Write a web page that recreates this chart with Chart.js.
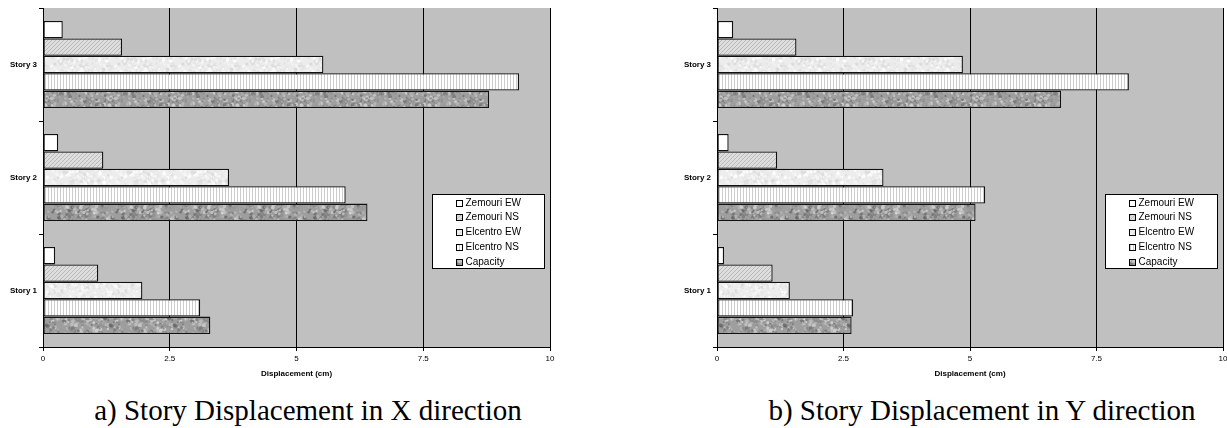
<!DOCTYPE html>
<html>
<head>
<meta charset="utf-8">
<script src="https://cdn.jsdelivr.net/npm/chart.js@4.4.1/dist/chart.umd.min.js"></script>
<style>
  html, body { margin: 0; padding: 0; background: #fff; width: 1227px; height: 428px; overflow: hidden; position: relative; }
  .panel { position: absolute; top: 0; }
  .caption {
    position: absolute; top: 396px; line-height: 29px;
    font-family: "Liberation Serif", "Times New Roman", serif; font-size: 29px;
    color: #000; white-space: nowrap; transform: translateX(-50%);
  }
</style>
</head>
<body>
<canvas id="chartX" class="panel" width="562" height="385" style="left:0"></canvas>
<canvas id="chartY" class="panel" width="560" height="385" style="left:674px"></canvas>
<div class="caption" style="left:308px">a) Story Displacement in X direction</div>
<div class="caption" style="left:982px">b) Story Displacement in Y direction</div>
<script>
// categories (top to bottom)
const stories = ['Story 3', 'Story 2', 'Story 1'];
const seriesNames = ['Zemouri EW', 'Zemouri NS', 'Elcentro EW', 'Elcentro NS', 'Capacity'];

// a) X direction, cm
const xZemouriEW  = [0.39, 0.30, 0.24];
const xZemouriNS  = [1.56, 1.19, 1.09];
const xElcentroEW = [5.53, 3.67, 1.96];
const xElcentroNS = [9.39, 5.97, 3.10];
const xCapacity   = [8.80, 6.40, 3.30];

// b) Y direction, cm
const yZemouriEW  = [0.32, 0.23, 0.14];
const yZemouriNS  = [1.57, 1.19, 1.10];
const yElcentroEW = [4.86, 3.29, 1.44];
const yElcentroNS = [8.14, 5.30, 2.69];
const yCapacity   = [6.80, 5.11, 2.66];

const axisMin = 0, axisMax = 10, axisStep = 2.5;
const FONT = '"Liberation Sans", Arial, sans-serif';

// --- fill textures (excel-like patterns) ---
function lcg(seed) {
    let s = seed >>> 0;
    return () => (s = (s * 1664525 + 1013904223) >>> 0) / 4294967296;
}
function tile(w, h, paint) {
    const c = document.createElement('canvas');
    c.width = w; c.height = h;
    const g = c.getContext('2d');
    paint(g, w, h);
    return g.createPattern(c, 'repeat');
}
// mottled texture: base colour plus soft random blobs
function speckle(base, spread, seed) {
    return tile(64, 64, (g, w, h) => {
        const rnd = lcg(seed);
        g.fillStyle = `rgb(${base},${base},${base})`;
        g.fillRect(0, 0, w, h);
        for (let k = 0; k < 700; k++) {
            const v = Math.max(0, Math.min(255, Math.round(base + (rnd() - 0.5) * spread)));
            const x = rnd() * w, y = rnd() * h, r = 0.6 + rnd() * 1.4;
            g.fillStyle = `rgba(${v},${v},${v},0.8)`;
            for (const dx of [-w, 0, w]) for (const dy of [-h, 0, h]) {
                g.beginPath();
                g.arc(x + dx, y + dy, r, 0, Math.PI * 2);
                g.fill();
            }
        }
    });
}
const fillWhite = '#ffffff';
const fillHatch = tile(4, 4, (g) => {
    g.fillStyle = '#dedede'; g.fillRect(0, 0, 4, 4);
    g.fillStyle = '#b8b8b8';
    for (let i = 0; i < 4; i++) g.fillRect(3 - i, i, 1, 1);
});
const fillLightSpeckle = speckle(236, 44, 7);
const fillStripes = tile(3, 1, (g) => {
    g.fillStyle = '#ffffff'; g.fillRect(0, 0, 3, 1);
    g.fillStyle = '#cccccc'; g.fillRect(0, 0, 1, 1);
});
const fillDarkSpeckle = speckle(158, 120, 13);
const seriesFills = [fillWhite, fillHatch, fillLightSpeckle, fillStripes, fillDarkSpeckle];

// --- plugins ---
const plotBackground = {
    id: 'plotBackground',
    beforeDraw(chart) {
        const { ctx, chartArea: a } = chart;
        ctx.save();
        ctx.fillStyle = '#c0c0c0';
        ctx.fillRect(a.left, a.top, a.right - a.left, a.bottom - a.top);
        ctx.restore();
    }
};

const legendBox = {
    id: 'legendBox',
    afterDraw(chart) {
        const { ctx, chartArea } = chart;
        const w = 113, h = 75;
        const left = Math.round(chartArea.right - 5 - w), top = 194;
        ctx.save();
        ctx.fillStyle = '#fff';
        ctx.fillRect(left, top, w, h);
        ctx.strokeStyle = '#000';
        ctx.lineWidth = 1;
        ctx.strokeRect(left + 0.5, top + 0.5, w - 1, h - 1);
        ctx.font = '10px ' + FONT;
        ctx.textBaseline = 'middle';
        chart.data.datasets.forEach((ds, i) => {
            const y = Math.round(top + 8.5 + i * 14.8);
            ctx.fillStyle = ds.backgroundColor;
            ctx.fillRect(left + 24, y - 3, 7, 7);
            ctx.strokeStyle = '#000';
            ctx.strokeRect(left + 24.5, y - 2.5, 6, 6);
            ctx.fillStyle = '#000';
            ctx.fillText(ds.label, left + 33.5, y + 0.5);
        });
        ctx.restore();
    }
};

function makeChart(id, values, rightPad) {
    const ctx = document.getElementById(id).getContext('2d');
    return new Chart(ctx, {
        type: 'bar',
        data: {
            labels: stories,
            datasets: values.map((v, i) => ({
                label: seriesNames[i],
                data: v,
                backgroundColor: seriesFills[i],
                borderColor: '#111',
                borderWidth: 1.3,
                borderSkipped: false,
                barPercentage: 1,
                categoryPercentage: 0.77
            }))
        },
        options: {
            indexAxis: 'y',
            responsive: false,
            animation: false,
            layout: { padding: { top: 8, right: rightPad, bottom: 0, left: 0 } },
            scales: {
                x: {
                    min: axisMin,
                    max: axisMax,
                    ticks: { stepSize: axisStep, color: '#000', font: { family: FONT, size: 8 }, padding: 3 },
                    grid: { color: '#000', lineWidth: 1, tickLength: 4 },
                    border: { display: true, color: '#000', width: 1 },
                    title: {
                        display: true, text: 'Displacement (cm)', color: '#000',
                        font: { family: FONT, size: 8, weight: 'bold' },
                        padding: { top: 0, bottom: 6 }
                    },
                    afterFit(scale) { scale.height = 38; }
                },
                y: {
                    ticks: { color: '#000', font: { family: FONT, size: 8, weight: 'bold' }, padding: 2 },
                    grid: { drawOnChartArea: false, color: '#000', tickLength: 4, offset: true },
                    border: { display: true, color: '#000', width: 1 },
                    afterFit(scale) { scale.width = 43; }
                }
            },
            plugins: {
                legend: { display: false },
                tooltip: { enabled: false }
            }
        },
        plugins: [plotBackground, legendBox]
    });
}

makeChart('chartX', [xZemouriEW, xZemouriNS, xElcentroEW, xElcentroNS, xCapacity], 12);
makeChart('chartY', [yZemouriEW, yZemouriNS, yElcentroEW, yElcentroNS, yCapacity], 11);
</script>
</body>
</html>
